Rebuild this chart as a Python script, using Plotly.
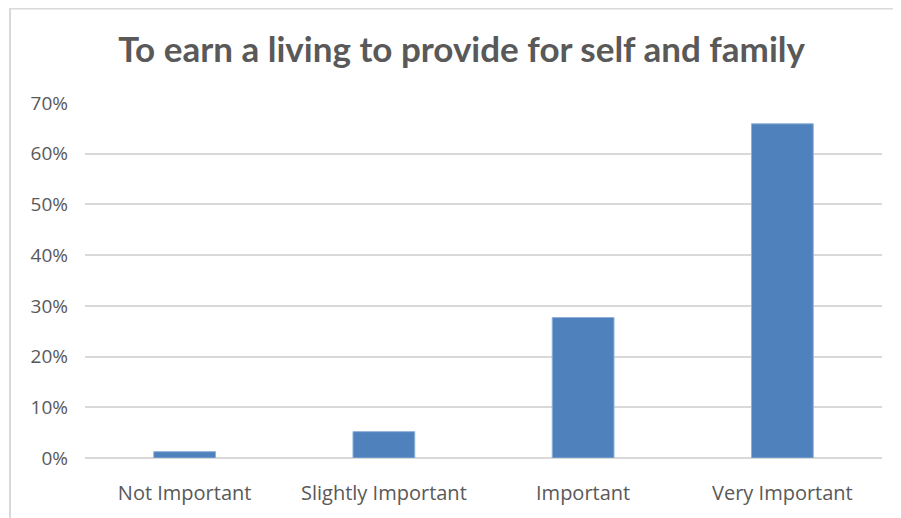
import plotly.graph_objects as go

categories = ["Not Important", "Slightly Important", "Important", "Very Important"]
values = [0.0125, 0.052, 0.277, 0.659]
tick_vals = [0, 0.1, 0.2, 0.3, 0.4, 0.5, 0.6, 0.7]
tick_text = ["0%", "10%", "20%", "30%", "40%", "50%", "60%", "70%"]

W, H = 893, 510
L, R, T, B = 77, 19, 95, 60
pw, ph = W - L - R, H - T - B

fig = go.Figure(go.Bar(
    x=categories, y=values,
    marker=dict(color="#4F81BD", line=dict(color="#8EB0DB", width=1)),
))

fig.update_layout(
    width=W, height=H,
    margin=dict(l=L, r=R, t=T, b=B, autoexpand=False),
    paper_bgcolor="white", plot_bgcolor="white",
    bargap=0.69,
    showlegend=False,
    title=dict(text="<b>To earn a living to provide for self and family</b>",
               x=0.508, xanchor="center", y=1 - 42 / H, yanchor="middle",
               font=dict(family="Lato, Open Sans, sans-serif", size=35, color="#595959")),
    font=dict(family="Open Sans, Lato, sans-serif", color="#595959", size=19),
    shapes=[dict(type="rect", xref="paper", yref="paper",
                 x0=-(L - 2) / pw, x1=1 + 40 / pw, y0=-100 / ph, y1=1 + (T - 0.5) / ph,
                 line=dict(color="#D9D9D9", width=2), fillcolor="rgba(0,0,0,0)", layer="below")],
)
fig.update_xaxes(showgrid=False, showline=False, ticks="", ticklabelstandoff=21,
                 tickfont=dict(size=20, color="#595959"))
fig.update_yaxes(range=[0, 0.7], tickvals=tick_vals, ticktext=tick_text,
                 showgrid=True, gridcolor="#D9D9D9", gridwidth=1.5,
                 zeroline=True, zerolinecolor="#D9D9D9", zerolinewidth=1.5,
                 ticks="", ticklen=0, ticklabelstandoff=16,
                 tickfont=dict(size=19, color="#595959"))

fig.write_html("out.html")
